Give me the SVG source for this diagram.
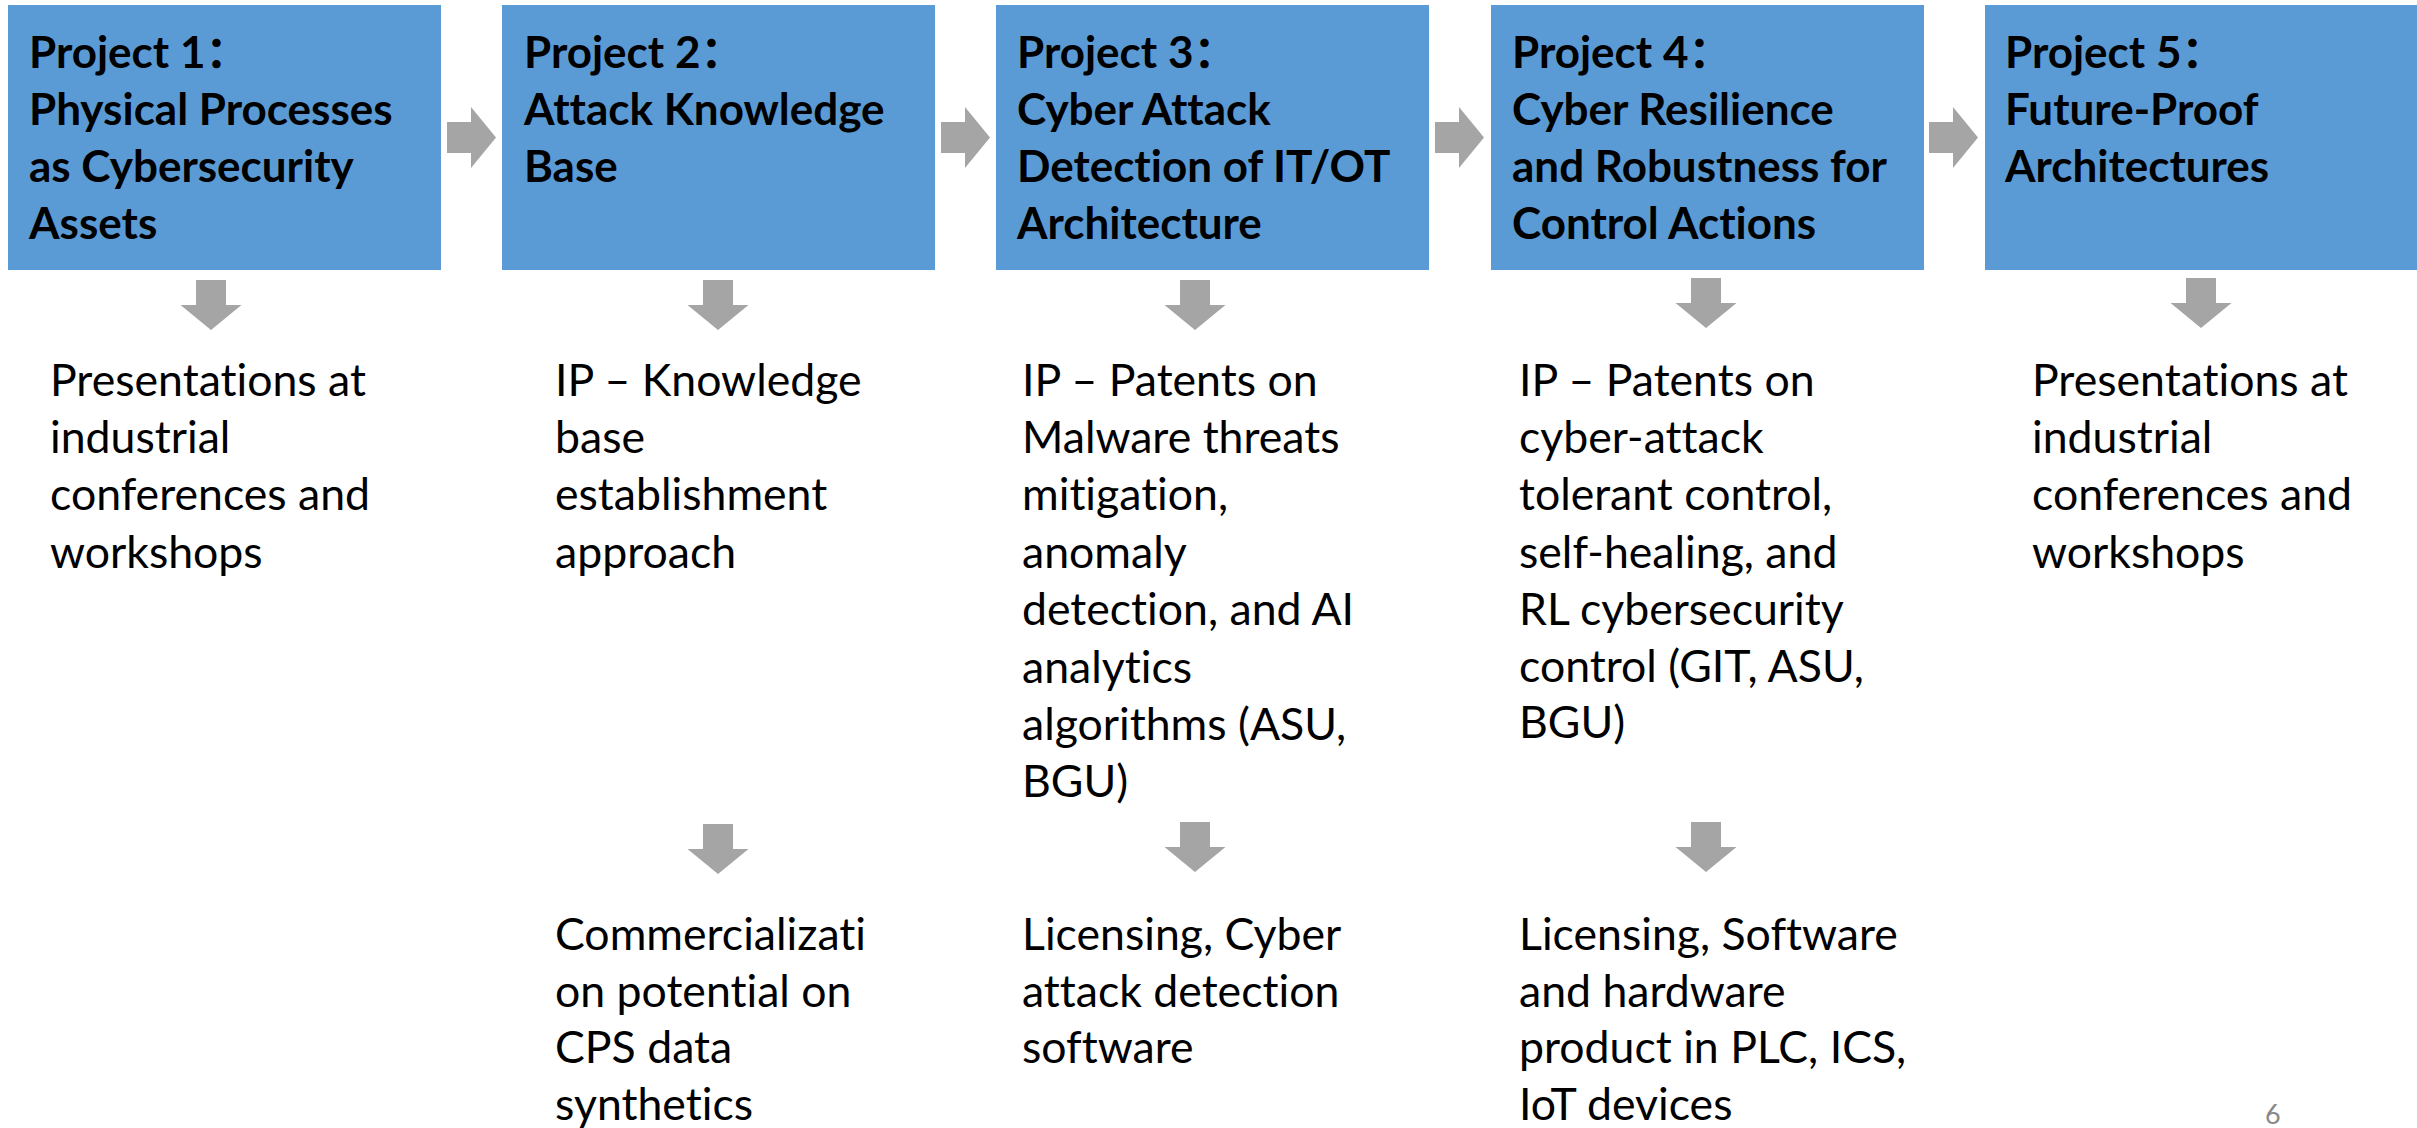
<svg xmlns="http://www.w3.org/2000/svg" width="2417" height="1128" viewBox="0 0 2417 1128">
<defs>
<style>
.box{fill:#5B9BD5}
text{font-variant-ligatures:none;font-feature-settings:"liga" 0,"clig" 0,"dlig" 0}
.title{font-family:Lato,"Liberation Sans","Noto Sans CJK SC",sans-serif;font-weight:bold;font-size:44px;fill:#000}
.body{font-family:Lato,"Liberation Sans","Noto Sans CJK SC",sans-serif;font-size:44.6px;fill:#000}
.pg{font-family:Lato,"Liberation Sans",sans-serif;font-size:27px;fill:#898989}
#connectors use{fill:#A5A5A5}
</style>
<path id="ra" d="M0,15 H24 V0 L49,30.5 L24,61 V46 H0 Z"/>
<path id="da" d="M-15,0 H15 V25 H30.5 L0,50 L-30.5,25 H-15 Z"/>
</defs>
<rect width="2417" height="1128" fill="#fff"/>
<g id="p1">
<rect class="box" x="8" y="5" width="433" height="265"/>
<text class="title"><tspan x="29" y="68">Project 1：</tspan><tspan x="29" y="125">Physical Processes</tspan><tspan x="29" y="182">as Cybersecurity</tspan><tspan x="29" y="239">Assets</tspan></text>
</g>
<g id="p2">
<rect class="box" x="502" y="5" width="433" height="265"/>
<text class="title"><tspan x="524" y="68">Project 2：</tspan><tspan x="524" y="125">Attack Knowledge</tspan><tspan x="524" y="182">Base</tspan></text>
</g>
<g id="p3">
<rect class="box" x="996" y="5" width="433" height="265"/>
<text class="title"><tspan x="1017" y="68">Project 3：</tspan><tspan x="1017" y="125">Cyber Attack</tspan><tspan x="1017" y="182">Detection of IT/OT</tspan><tspan x="1017" y="239">Architecture</tspan></text>
</g>
<g id="p4">
<rect class="box" x="1491" y="5" width="433" height="265"/>
<text class="title"><tspan x="1512" y="68">Project 4：</tspan><tspan x="1512" y="125">Cyber Resilience</tspan><tspan x="1512" y="182">and Robustness for</tspan><tspan x="1512" y="239">Control Actions</tspan></text>
</g>
<g id="p5">
<rect class="box" x="1985" y="5" width="433" height="265"/>
<text class="title"><tspan x="2005" y="68">Project 5：</tspan><tspan x="2005" y="125">Future-Proof</tspan><tspan x="2005" y="182">Architectures</tspan></text>
</g>
<g id="o1">
<text class="body"><tspan x="50" y="396">Presentations at</tspan><tspan x="50" y="453">industrial</tspan><tspan x="50" y="510">conferences and</tspan><tspan x="50" y="568">workshops</tspan></text>
</g>
<g id="o2">
<text class="body"><tspan x="555" y="396">IP – Knowledge</tspan><tspan x="555" y="453">base</tspan><tspan x="555" y="510">establishment</tspan><tspan x="555" y="568">approach</tspan></text>
</g>
<g id="o3">
<text class="body"><tspan x="1022" y="396">IP – Patents on</tspan><tspan x="1022" y="453">Malware threats</tspan><tspan x="1022" y="510">mitigation,</tspan><tspan x="1022" y="568">anomaly</tspan><tspan x="1022" y="625">detection, and AI</tspan><tspan x="1022" y="683">analytics</tspan><tspan x="1022" y="740">algorithms (ASU,</tspan><tspan x="1022" y="797">BGU)</tspan></text>
</g>
<g id="o4">
<text class="body"><tspan x="1519" y="396">IP – Patents on</tspan><tspan x="1519" y="453">cyber-attack</tspan><tspan x="1519" y="510">tolerant control,</tspan><tspan x="1519" y="568">self-healing, and</tspan><tspan x="1519" y="625">RL cybersecurity</tspan><tspan x="1519" y="682">control (GIT, ASU,</tspan><tspan x="1519" y="738">BGU)</tspan></text>
</g>
<g id="o5">
<text class="body"><tspan x="2032" y="396">Presentations at</tspan><tspan x="2032" y="453">industrial</tspan><tspan x="2032" y="510">conferences and</tspan><tspan x="2032" y="568">workshops</tspan></text>
</g>
<g id="c2">
<text class="body"><tspan x="555" y="950">Commercializati</tspan><tspan x="555" y="1007">on potential on</tspan><tspan x="555" y="1063">CPS data</tspan><tspan x="555" y="1120">synthetics</tspan></text>
</g>
<g id="c3">
<text class="body"><tspan x="1022" y="950">Licensing, Cyber</tspan><tspan x="1022" y="1007">attack detection</tspan><tspan x="1022" y="1063">software</tspan></text>
</g>
<g id="c4">
<text class="body"><tspan x="1519" y="950">Licensing, Software</tspan><tspan x="1519" y="1007">and hardware</tspan><tspan x="1519" y="1063">product in PLC, ICS,</tspan><tspan x="1519" y="1120">IoT devices</tspan></text>
</g>
<g id="connectors">
<use href="#ra" x="447" y="107"/>
<use href="#ra" x="941" y="107"/>
<use href="#ra" x="1435" y="107"/>
<use href="#ra" x="1929" y="107"/>
<use href="#da" x="211" y="280"/>
<use href="#da" x="718" y="280"/>
<use href="#da" x="1195" y="280"/>
<use href="#da" x="1706" y="278"/>
<use href="#da" x="2201" y="278"/>
<use href="#da" x="718" y="824"/>
<use href="#da" x="1195" y="822"/>
<use href="#da" x="1706" y="822"/>
</g>
<text class="pg" x="2265" y="1124">6</text>
</svg>
